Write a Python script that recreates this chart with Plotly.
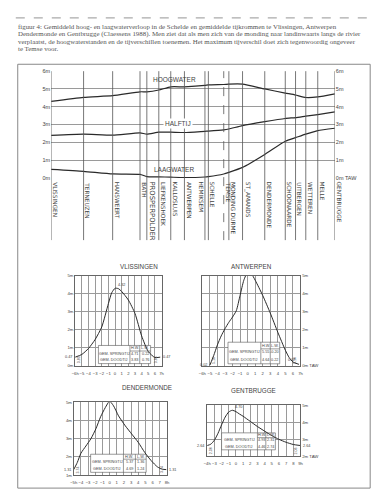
import plotly.graph_objects as go

W, H = 383, 500

# ---------------- data ----------------
stations = ["VLISSINGEN", "TERNEUZEN", "HANSWEERT", "BATH", "PROSPERPOLDER", "LIEFKENSHOEK",
            "KALLOSLUIS", "ANTWERPEN", "HEMIKSEM", "SCHELLE", "TEMSE", "MONDING DURME",
            "ST_AMANDS", "DENDERMONDE", "SCHOONAARDE", "UITBERGEN", "WETTEREN", "MELLE", "GENTBRUGGE"]
station_km = [0, 19, 36, 52, 56, 63, 70, 78, 90, 92, 101, 104, 112, 125, 137, 143, 149, 156, 166]
hoogwater = [4.30, 4.53, 4.62, 4.84, 4.84, 4.94, 5.12, 5.12, 5.20, 5.23, 5.25, 5.27, 5.27,
             5.00, 4.77, 4.66, 4.52, 4.55, 4.72]
halftij = [2.39, 2.46, 2.40, 2.53, 2.46, 2.57, 2.57, 2.55, 2.62, 2.63, 2.70, 2.75, 2.94,
           3.16, 3.34, 3.39, 3.47, 3.56, 3.71]
laagwater = [0.48, 0.37, 0.22, 0.20, 0.07, 0.06, 0.04, 0.02, 0.05, 0.07, 0.22, 0.31, 0.59,
             1.32, 2.06, 2.26, 2.46, 2.66, 2.79]

vl_h = [-6, -5, -4, -3, -2, -1, -0.5, 0, 0.5, 1, 2, 3, 4, 5, 6, 6.8]
vl_m = [0.47, 0.62, 0.95, 1.45, 2.15, 3.45, 4.05, 4.30, 4.28, 4.12, 3.65, 2.90, 1.65, 0.78, 0.45, 0.47]

an_h = [-5, -4.5, -4, -3.5, -3, -2.5, -2, -1.5, -1, -0.5, 0, 0.5, 1, 2, 3, 4, 5, 5.5, 6, 6.8]
an_m = [0.02, 0.55, 1.15, 1.65, 2.05, 2.40, 2.70, 3.05, 3.90, 4.75, 5.18, 5.10, 4.75, 3.90, 2.92, 1.85, 0.85, 0.45, 0.20, 0.07]

de_h = [-5, -4.5, -4, -3.3, -2.6, -1.9, -1.25, -0.6, 0, 0.55, 1.25, 2.2, 3.1, 4.0, 4.9, 5.8, 6.7, 7.4, 7.9]
de_m = [1.31, 1.70, 2.20, 2.60, 3.00, 3.55, 4.20, 4.70, 5.05, 4.80, 4.25, 3.70, 3.25, 2.80, 2.25, 1.80, 1.45, 1.33, 1.31]

ge_h = [-4, -3.5, -3, -2.5, -2, -1.5, -1, -0.5, 0, 0.5, 1, 2, 3, 4, 5, 6, 7, 8, 9]
ge_m = [2.64, 2.72, 2.95, 3.35, 3.85, 4.30, 4.60, 4.70, 4.62, 4.48, 4.35, 4.05, 3.75, 3.48, 3.22, 3.00, 2.83, 2.70, 2.64]

tables = {
    "VLISSINGEN": (("4.71", "0.22"), ("3.83", "0.76")),
    "ANTWERPEN": (("5.55", "-0.20"), ("4.64", "0.22")),
    "DENDERMONDE": (("5.37", "1.36"), ("4.69", "1.24")),
    "GENTBRUGGE": (("4.93", "2.31"), ("4.46", "2.74")),
}

caption = [
    "figuur 4: Gemiddeld hoog- en laagwaterverloop in de Schelde en gemiddelde tijkrommen te Vlissingen, Antwerpen",
    "Dendermonde en Gentbrugge (Claessens 1988). Men ziet dat als men zich van de monding naar landinwaarts langs de rivier",
    "verplaatst, de hoogwaterstanden en de tijverschillen toenemen. Het maximum tijverschil doet zich tegenwoordig ongeveer",
    "te Temse voor.",
]

# ---------------- helpers ----------------
def px(x):
    return x / W

def py(y):
    return 1 - y / H

INK = "#2a2a2a"
GRID = "#9a9a9a"
TXT = "#444444"
FONT = "Liberation Sans, Arial"
SFONT = "DejaVu Sans"

fig = go.Figure()
shapes = []
ann = []

# ---------------- main chart ----------------
for name, vals in [("HOOGWATER", hoogwater), ("HALFTIJ", halftij), ("LAAGWATER", laagwater)]:
    fig.add_trace(go.Scatter(x=station_km, y=vals, mode="lines", xaxis="x", yaxis="y",
                             line=dict(color=INK, width=1.2, shape="spline", smoothing=0.5),
                             showlegend=False, hoverinfo="skip"))
fig.add_trace(go.Scatter(x=[0], y=[0], mode="markers", marker=dict(opacity=0), xaxis="x", yaxis="y2",
                         showlegend=False, hoverinfo="skip"))

ann.append(dict(text="HOOGWATER", x=72, y=5.52, xref="x", yref="y", showarrow=False,
                font=dict(size=6.5, color=TXT, family=FONT)))
ann.append(dict(text="HALFTIJ", x=74, y=3.05, xref="x", yref="y", showarrow=False, bgcolor="white",
                font=dict(size=6.5, color=TXT, family=FONT)))
ann.append(dict(text="LAAGWATER", x=72, y=0.45, xref="x", yref="y", showarrow=False,
                font=dict(size=6.5, color=TXT, family=FONT)))

for i, (s, k) in enumerate(zip(stations, station_km)):
    shapes.append(dict(type="line", xref="x", yref="paper", x0=k, x1=k, y0=py(240), y1=py(69),
                       line=dict(color="#555", width=0.8, dash="dash" if s == "TEMSE" else "solid"),
                       layer="above"))
    big = s in ("PROSPERPOLDER", "MONDING DURME", "ANTWERPEN")
    left_side = s == "HEMIKSEM"
    ann.append(dict(text=s, x=k, y=py(180), xref="x", yref="paper", textangle=90,
                    xanchor="right" if left_side else "left", yanchor="top", xshift=0,
                    showarrow=False, borderpad=0,
                    font=dict(size=6.8 if s == "PROSPERPOLDER" else 5.8, color="#333" if big else TXT,
                              family=SFONT)))

# ---------------- small charts ----------------
subs = [
    ("VLISSINGEN", 3, vl_h, vl_m, (72.5, 160.5), (276, 367), (-6, 7), (0, 5), "left"),
    ("ANTWERPEN", 4, an_h, an_m, (202, 302), (276, 367), (-6, 7), (0, 5), "right"),
    ("DENDERMONDE", 5, de_h, de_m, (71, 166), (404, 478), (-5, 8), (1, 5), "left"),
    ("GENTBRUGGE", 6, ge_h, ge_m, (207, 302), (407, 459), (-4, 9), (2, 5), "right"),
]
table_geo = {
    "VLISSINGEN": ((-2.5, 2.24, 3.72, 5.35), (1.12, 0.81, 0.48, 0.11)),
    "ANTWERPEN": ((-2.6, 1.75, 3.0, 4.25), (1.30, 0.93, 0.57, 0.10)),
    "DENDERMONDE": ((-2.64, 1.93, 3.6, 5.1), (2.15, 1.88, 1.56, 1.16)),
    "GENTBRUGGE": ((-2.0, 3.0, 4.17, 5.5), (3.38, 3.10, 2.77, 2.39)),
}
annot_vals = {
    "VLISSINGEN": ("4.32", "0.47", "0.47", "3.85"),
    "ANTWERPEN": ("5.18", "0.02", "0.07", "5.16"),
    "DENDERMONDE": ("5.05", "1.31", "1.31", "3.74"),
    "GENTBRUGGE": ("4.70", "2.64", "2.64", "2.06"),
}

for name, n, hh, mm, xp, yp, xr, yr, side in subs:
    xa, ya = f"x{n}", f"y{n}"
    fig.add_trace(go.Scatter(x=hh, y=mm, mode="lines", xaxis=xa, yaxis=ya,
                             line=dict(color=INK, width=1.0, shape="spline", smoothing=0.6),
                             showlegend=False, hoverinfo="skip"))
    hours = list(range(xr[0], xr[1] + 1))
    ttx = [f"{h}h" if h in (xr[0], xr[1]) else str(h) for h in hours]
    ttx = [t.replace("-", "\u2212") for t in ttx]
    meters = list(range(yr[0], yr[1] + 1))
    tty = [f"{m}m" for m in meters]
    if side == "right":
        tty[0] = tty[0] + " TAW"
    fig.update_layout(**{
        f"xaxis{n}": dict(domain=[px(xp[0]), px(xp[1])], anchor=ya, range=list(xr),
                          tickvals=hours, ticktext=ttx, tickangle=0, showgrid=True, gridcolor=GRID,
                          gridwidth=0.6, showline=True, linecolor="#666", linewidth=0.8, mirror=True,
                          zeroline=False, tickfont=dict(size=4.2, color=TXT, family=FONT), ticks="",
                          ticklabelstandoff=3),
        f"yaxis{n}": dict(domain=[py(yp[1]), py(yp[0])], anchor=xa, range=list(yr), side=side,
                          tickvals=meters, ticktext=tty, showgrid=True, gridcolor=GRID, gridwidth=0.6,
                          showline=True, linecolor="#666", linewidth=0.8, mirror=True, zeroline=False,
                          tickfont=dict(size=4.3, color=TXT, family=FONT), ticks=""),
    })
    ann.append(dict(text=name, x=px((xp[0] + xp[1]) / 2), y=py(yp[0] - 9), xref="paper", yref="paper",
                    showarrow=False, font=dict(size=6.3, color=TXT, family=FONT)))
    (tx0, tx1, tx2, tx3), (ty0, ty1, ty2, ty3) = table_geo[name]
    shapes.append(dict(type="rect", xref=xa, yref=ya, x0=tx0, x1=tx3, y0=ty3, y1=ty0,
                       line=dict(color="#555", width=0.6), fillcolor="white", layer="between"))
    for xx in (tx1, tx2):
        shapes.append(dict(type="line", xref=xa, yref=ya, x0=xx, x1=xx, y0=ty3, y1=ty0,
                           line=dict(color="#555", width=0.6), layer="between"))
    shapes.append(dict(type="line", xref=xa, yref=ya, x0=tx1, x1=tx3, y0=ty1, y1=ty1,
                       line=dict(color="#555", width=0.6), layer="between"))
    f4 = dict(size=3.8, color=TXT, family=FONT)
    (sp_hw, sp_lw), (do_hw, do_lw) = tables[name]
    ann += [
        dict(text="H.W.", x=(tx1 + tx2) / 2, y=(ty0 + ty1) / 2, xref=xa, yref=ya, showarrow=False, font=f4, borderpad=0),
        dict(text="L.W.", x=(tx2 + tx3) / 2, y=(ty0 + ty1) / 2, xref=xa, yref=ya, showarrow=False, font=f4, borderpad=0),
        dict(text="GEM. SPRINGTIJ", x=(tx0 + tx1) / 2, y=(ty1 + ty2) / 2, xref=xa, yref=ya, showarrow=False, font=f4, borderpad=0),
        dict(text="GEM. DOODTIJ", x=(tx0 + tx1) / 2, y=(ty2 + ty3) / 2, xref=xa, yref=ya, showarrow=False, font=f4, borderpad=0),
        dict(text=sp_hw, x=(tx1 + tx2) / 2, y=(ty1 + ty2) / 2, xref=xa, yref=ya, showarrow=False, font=f4, borderpad=0),
        dict(text=sp_lw, x=(tx2 + tx3) / 2, y=(ty1 + ty2) / 2, xref=xa, yref=ya, showarrow=False, font=f4, borderpad=0),
        dict(text=do_hw, x=(tx1 + tx2) / 2, y=(ty2 + ty3) / 2, xref=xa, yref=ya, showarrow=False, font=f4, borderpad=0),
        dict(text=do_lw, x=(tx2 + tx3) / 2, y=(ty2 + ty3) / 2, xref=xa, yref=ya, showarrow=False, font=f4, borderpad=0),
    ]
    pk, lft, rgt, rng = annot_vals[name]
    imax = mm.index(max(mm))
    ann.append(dict(text=pk, x=hh[imax], y=mm[imax], xref=xa, yref=ya, showarrow=False,
                    xanchor="left", yanchor="bottom", xshift=1, yshift=-1, font=f4))
    ann.append(dict(text=lft, x=hh[0], y=mm[0], xref=xa, yref=ya, showarrow=False,
                    xanchor="right", yanchor="middle", xshift=-1, font=f4))
    if name == "ANTWERPEN":
        ann.append(dict(text=rgt, x=hh[-1], y=mm[-1], xref=xa, yref=ya, showarrow=False,
                        xanchor="right", yanchor="bottom", xshift=-2, yshift=0, font=f4))
    else:
        ann.append(dict(text=rgt, x=hh[-1], y=mm[-1], xref=xa, yref=ya, showarrow=False,
                        xanchor="left", yanchor="middle", xshift=1, font=f4))
    ann.append(dict(text=rng, x=hh[0], y=yr[0], xref=xa, yref=ya, showarrow=False, textangle=-90,
                    xanchor="left", yanchor="bottom", xshift=1, yshift=1, borderpad=0,
                    font=dict(size=3.6, color=TXT, family=FONT)))
    ann.append(dict(text=rng, x=hh[-1], y=yr[0], xref=xa, yref=ya, showarrow=False, textangle=-90,
                    xanchor="right", yanchor="bottom", xshift=-1, yshift=1, borderpad=0,
                    font=dict(size=3.6, color=TXT, family=FONT)))

# ---------------- caption & frame ----------------
for i, line in enumerate(caption):
    ann.append(dict(text=line, x=px(12), y=py(24 + i * 7.4), xref="paper", yref="paper",
                    xanchor="left", yanchor="middle", showarrow=False,
                    font=dict(size=6.9, color="#555", family="Liberation Serif, DejaVu Serif, serif")))
shapes.append(dict(type="line", xref="paper", yref="paper", x0=px(12), x1=px(376), y0=py(15), y1=py(15),
                   line=dict(color="#aaa", width=1.2, dash="dash")))
shapes.append(dict(type="rect", xref="paper", yref="paper", x0=px(14), x1=px(373), y0=py(491), y1=py(62),
                   line=dict(color="#888", width=1), layer="below"))

m_ticks = list(range(0, 7))
fig.update_layout(
    width=W, height=H, autosize=False,
    margin=dict(l=0, r=0, t=0, b=0),
    paper_bgcolor="white", plot_bgcolor="rgba(0,0,0,0)",
    xaxis=dict(domain=[px(48), px(337)], anchor="y", range=[0, 166], showgrid=False, zeroline=False,
               showticklabels=False, showline=False),
    yaxis=dict(domain=[py(177), py(69)], anchor="x", range=[0, 6], tickvals=m_ticks,
               ticktext=[f"{m}m" for m in m_ticks], showgrid=True, gridcolor=GRID, gridwidth=0.7,
               zeroline=False, showline=False, ticks="",
               tickfont=dict(size=5.5, color=TXT, family=FONT)),
    yaxis2=dict(overlaying="y", anchor="x", side="right", range=[0, 6], tickvals=m_ticks,
                ticktext=["0m TAW"] + [f"{m}m" for m in m_ticks[1:]], showgrid=False, zeroline=False,
                showline=False, ticks="", tickfont=dict(size=5.5, color=TXT, family=FONT)),
    shapes=shapes, annotations=ann,
)

fig.write_html("out.html", config={"displayModeBar": False},
               post_script="document.body.style.margin='0';document.body.style.padding='0';")
